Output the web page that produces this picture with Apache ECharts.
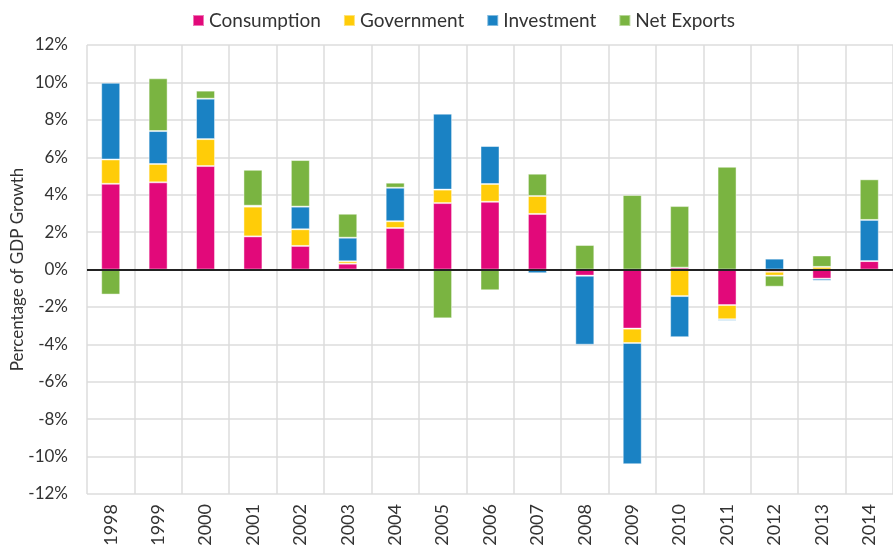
<!DOCTYPE html>
<html>
<head>
<meta charset="utf-8">
<script src="https://cdn.jsdelivr.net/npm/echarts@6/dist/echarts.min.js"></script>
<style>
  html, body { margin: 0; padding: 0; background: #fff; }
  #main { width: 893px; height: 550px; }
</style>
</head>
<body>
<div id="main"></div>
<script>
  // 年份
  var years = ["1998", "1999", "2000", "2001", "2002", "2003", "2004", "2005", "2006",
    "2007", "2008", "2009", "2010", "2011", "2012", "2013", "2014"];
  // 各部分对GDP增长的贡献 (%)
  var consumption = [4.58, 4.66, 5.53, 1.77, 1.26, 0.31, 2.22, 3.55, 3.62,
    2.97, -0.33, -3.16, 0.10, -1.90, -0.12, -0.49, 0.45];
  var government = [1.30, 0.98, 1.44, 1.59, 0.89, 0.13, 0.36, 0.72, 0.95,
    0.96, 0.0, -0.77, -1.42, -0.76, -0.21, 0.14, 0.0];
  var investment = [4.10, 1.76, 2.16, 0.05, 1.21, 1.26, 1.79, 4.06, 2.03,
    -0.20, -3.69, -6.48, -2.20, -0.08, 0.58, -0.11, 2.20];
  var netExports = [-1.34, 2.82, 0.43, 1.92, 2.49, 1.28, 0.27, -2.61, -1.11,
    1.19, 1.31, 3.98, 3.29, 5.49, -0.59, 0.61, 2.17];

  var names = ["Consumption", "Government", "Investment", "Net Exports"];
  var colors = ["#E2097A", "#FFCC08", "#1A82C4", "#7AB441"];
  var values = [consumption, government, investment, netExports];

  var chartDom = document.getElementById("main");
  var myChart = echarts.init(chartDom);

  var series = [];
  for (var i = 0; i < names.length; i++) {
    series.push({
      name: names[i],
      type: "bar",
      stack: "gdp",
      barWidth: 19,
      data: values[i],
      itemStyle: {
        color: colors[i],
        borderColor: "rgba(255,255,255,0.45)",
        borderWidth: 1,
      },
    });
  }
  // 零线
  series[0].markLine = {
    silent: true,
    symbol: "none",
    label: { show: false },
    lineStyle: { color: "#222", width: 2, type: "solid" },
    data: [{ yAxis: 0 }],
  };

  var option = {
    animation: false,
    textStyle: { fontFamily: "Lato, 'Open Sans', sans-serif" },
    color: colors,
    legend: {
      data: names,
      top: 6,
      left: 187,
      itemWidth: 11,
      itemHeight: 11,
      itemGap: 22,
      icon: "rect",
      textStyle: { fontSize: 19, color: "#333" },
    },
    grid: {
      left: 87,
      right: 0,
      top: 45,
      bottom: 56,
      outerBoundsMode: "none",
    },
    xAxis: {
      type: "category",
      data: years,
      axisLine: { onZero: false, show: false },
      axisTick: { show: false },
      splitLine: { show: true, lineStyle: { color: "#dcdcdc", width: 1.5 } },
      axisLabel: {
        rotate: 90,
        fontSize: 18,
        color: "#333",
        margin: 10,
        interval: 0,
      },
    },
    yAxis: {
      type: "value",
      min: -12,
      max: 12,
      interval: 2,
      name: "Percentage of GDP Growth",
      nameLocation: "middle",
      nameGap: 61,
      nameMoveOverlap: false,
      nameTextStyle: { fontSize: 17, color: "#333" },
      axisLine: { show: false },
      axisTick: { show: false },
      splitLine: { lineStyle: { color: "#dcdcdc", width: 1.5 } },
      axisLabel: {
        formatter: "{value}%",
        fontSize: 17,
        color: "#333",
        margin: 19,
      },
    },
    series: series,
  };

  option && myChart.setOption(option);
</script>
</body>
</html>
